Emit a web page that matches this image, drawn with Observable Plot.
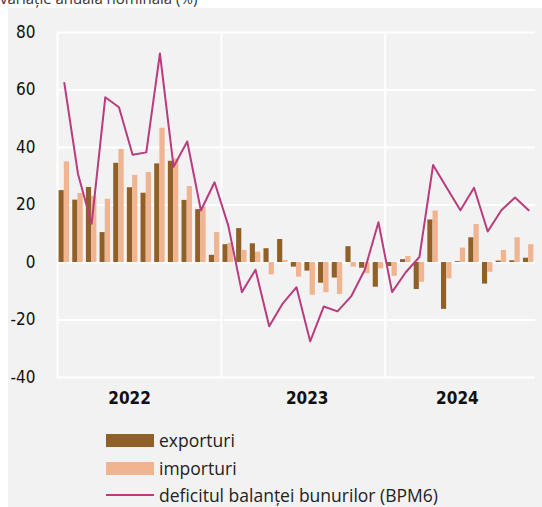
<!DOCTYPE html>
<html>
<head>
<meta charset="utf-8">
<script src="https://cdn.jsdelivr.net/npm/d3@7"></script>
<script src="https://cdn.jsdelivr.net/npm/@observablehq/plot@0.6"></script>
<style>
  html, body { margin: 0; padding: 0; background: #ffffff; }
  body { width: 542px; height: 507px; position: relative; overflow: hidden; font-family: "Open Sans", "Noto Sans", sans-serif; }
  #title { position: absolute; left: 0; top: -9px; font-size: 15px; line-height: 15px; color: #333; white-space: nowrap; }
  #panel { position: absolute; left: 8px; top: 8px; width: 534px; height: 499px; background: #f2f2f2; }
  #chart { position: absolute; left: 0; top: 0; }
  .leg { position: absolute; left: 98px; height: 18px; line-height: 18px; display: flex; align-items: center; font-size: 17.5px; color: #222; white-space: nowrap; }
  .sw { width: 48px; height: 13px; margin-right: 5px; }
  .swl { width: 48px; height: 2px; margin-right: 5px; }
</style>
</head>
<body>
<div id="title">variație anuală nominală (%)</div>
<div id="panel">
  <div class="leg" style="top:423px"><div class="sw" style="background:#915f28"></div>exporturi</div>
  <div class="leg" style="top:451px"><div class="sw" style="background:#f0b491"></div>importuri</div>
  <div class="leg" style="top:478px"><div class="swl" style="background:#b93c7d"></div>deficitul balanței bunurilor (BPM6)</div>
  <div id="chart"></div>
</div>
<script>
const months = [
  "2022-01","2022-02","2022-03","2022-04","2022-05","2022-06","2022-07","2022-08","2022-09","2022-10","2022-11","2022-12",
  "2023-01","2023-02","2023-03","2023-04","2023-05","2023-06","2023-07","2023-08","2023-09","2023-10","2023-11","2023-12",
  "2024-01","2024-02","2024-03","2024-04","2024-05","2024-06","2024-07","2024-08","2024-09","2024-10","2024-11"
];
const exporturi = [
  25.0, 21.7, 26.1, 10.4, 34.5, 26.0, 24.1, 34.3, 35.2, 21.6, 18.4, 2.5,
  6.2, 11.8, 6.5, 4.8, 8.0, -1.6, -3.0, -7.2, -5.4, 5.5, -2.0, -8.6,
  -1.4, 1.0, -9.4, 14.8, -16.3, 0.3, 8.6, -7.5, 0.5, 0.6, 1.5
];
const importuri = [
  35.0, 24.0, 23.0, 22.0, 39.3, 30.3, 31.3, 46.7, 36.0, 26.4, 19.2, 10.4,
  6.7, 4.2, 3.6, -4.3, 0.7, -5.1, -11.4, -10.5, -11.1, -1.6, -3.9, -2.2,
  -4.8, 2.1, -6.9, 17.9, -5.7, 5.0, 13.2, -3.4, 4.2, 8.6, 6.2
];
const deficit = [
  62.4, 30.8, 13.5, 57.5, 54.0, 37.5, 38.3, 72.7, 33.3, 42.1, 18.1, 27.9,
  12.9, -10.3, -2.5, -22.2, -14.2, -8.6, -27.4, -15.3, -17.0, -11.8, -2.5, 14.0,
  -10.3, -3.4, 1.9, 33.9, 26.0, 18.2, 26.0, 10.8, 18.2, 22.6, 18.2
];
const yTicks = [-40, -20, 0, 20, 40, 60, 80];
const yearStarts = ["2022-01", "2023-01", "2024-01"];
const yearLabels = [
  {month: "2022-06", label: "2022"},
  {month: "2023-07", label: "2023"},
  {month: "2024-06", label: "2024"}
];

const data = months.map((m, i) => ({month: m, exp: exporturi[i], imp: importuri[i], def: deficit[i]}));

const width = 534, height = 400, mL = 49, mR = 7;
const bw = (width - mL - mR) / months.length;
const axisFont = '"Liberation Sans Narrow", "DejaVu Sans Condensed", "Roboto Condensed", sans-serif';

const chart = Plot.plot({
  width, height,
  marginLeft: mL, marginRight: mR, marginTop: 24, marginBottom: 31,
  style: {background: "transparent", fontFamily: axisFont, fontSize: "17px", color: "#111"},
  x: {type: "band", domain: months, padding: 0, round: false, axis: null},
  y: {domain: [-40, 80], ticks: yTicks, tickSize: 0, tickPadding: 22, label: null, tickFormat: d => String(d)},
  marks: [
    Plot.ruleY(yTicks, {stroke: "#ffffff", strokeWidth: 2}),
    Plot.ruleX(yearStarts, {x: d => d, y1: -40, y2: 80, stroke: "#ffffff", strokeWidth: 2, dx: -bw / 2}),
    Plot.barY(data, {x: "month", y: "exp", fill: "#915f28", insetLeft: 1.6, insetRight: 6.9}),
    Plot.barY(data, {x: "month", y: "imp", fill: "#f0b491", insetLeft: 6.8, insetRight: 1.6}),
    Plot.line(data, {x: "month", y: "def", stroke: "#b93c7d", strokeWidth: 2}),
    Plot.text(yearLabels, {x: "month", y: () => -40, text: "label", dy: 21, dx: -3, fontSize: 17, fontWeight: "bold", fill: "#111"})
  ]
});
document.getElementById("chart").appendChild(chart);
</script>
</body>
</html>
